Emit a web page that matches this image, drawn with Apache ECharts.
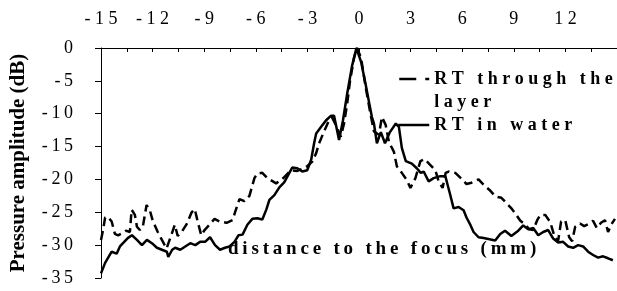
<!DOCTYPE html>
<html>
<head>
<meta charset="utf-8">
<script src="https://cdn.jsdelivr.net/npm/echarts@6/dist/echarts.min.js"></script>
<style>
  html, body { margin: 0; padding: 0; background: #fff; }
  #chart { width: 617px; height: 291px; }
</style>
</head>
<body>
<div id="chart"></div>
<script>
// distance to the focus (mm) and pressure amplitude (dB)
var waterX = [-15.0, -14.76, -14.38, -14.09, -13.9, -13.72, -13.43, -13.2, -12.91, -12.62, -12.33, -12.04, -11.75, -11.46, -11.17, -11.09, -10.86, -10.69, -10.39, -10.1, -9.81, -9.52, -9.24, -8.95, -8.66, -8.37, -8.08, -7.79, -7.53, -7.24, -7.01, -6.77, -6.49, -6.2, -5.91, -5.62, -5.39, -5.21, -4.92, -4.63, -4.34, -4.05, -3.88, -3.59, -3.3, -3.01, -2.78, -2.61, -2.49, -2.2, -1.91, -1.62, -1.45, -1.16, -0.93, -0.69, -0.41, -0.15, 0.12, 0.39, 0.58, 0.75, 0.87, 1.04, 1.27, 1.51, 1.8, 2.14, 2.32, 2.49, 2.72, 3.07, 3.36, 3.59, 3.76, 4.05, 4.34, 4.73, 5.02, 5.12, 5.31, 5.5, 5.79, 6.08, 6.25, 6.49, 6.66, 6.95, 7.24, 7.59, 7.92, 8.21, 8.49, 8.86, 9.26, 9.55, 9.84, 10.13, 10.42, 10.71, 11.0, 11.29, 11.58, 11.87, 12.16, 12.45, 12.74, 13.03, 13.32, 13.61, 13.9, 14.19, 14.48, 14.76];
var waterDb = [-34.3, -32.7, -31.0, -31.3, -30.2, -29.7, -28.9, -28.5, -29.2, -30.0, -29.2, -29.7, -30.4, -30.7, -31.0, -31.8, -30.7, -30.4, -30.7, -30.2, -29.7, -30.0, -29.5, -29.5, -28.8, -30.0, -30.7, -30.4, -30.2, -29.5, -28.5, -28.4, -26.9, -26.0, -25.9, -26.1, -24.6, -23.1, -22.4, -21.2, -20.4, -19.0, -18.2, -18.3, -18.8, -18.6, -17.0, -14.5, -13.0, -12.0, -11.0, -10.3, -10.3, -14.0, -11.0, -7.0, -2.8, 0, -2.1, -5.6, -8.2, -10.5, -11.5, -14.5, -12.8, -14.5, -12.8, -11.5, -12.0, -15.2, -17.2, -17.6, -18.3, -19.0, -18.8, -20.3, -19.8, -19.5, -19.5, -20.5, -22.4, -24.4, -24.2, -24.7, -25.8, -27.0, -28.0, -28.8, -28.9, -29.1, -29.3, -28.3, -27.8, -28.6, -27.8, -27.0, -27.6, -27.4, -28.5, -28.0, -27.7, -29.0, -29.6, -29.5, -30.2, -30.4, -30.0, -30.2, -31.0, -31.5, -31.9, -31.7, -32.0, -32.3];

var layerX = [-15.0, -14.88, -14.76, -14.59, -14.38, -14.19, -14.01, -13.78, -13.55, -13.32, -13.22, -13.03, -12.91, -12.74, -12.57, -12.35, -12.16, -11.99, -11.7, -11.46, -11.19, -10.89, -10.71, -10.54, -10.31, -10.02, -9.73, -9.55, -9.38, -9.17, -8.98, -8.69, -8.4, -8.11, -7.7, -7.35, -7.18, -6.95, -6.66, -6.37, -6.08, -5.91, -5.62, -5.33, -4.82, -4.4, -3.95, -3.59, -3.3, -3.01, -2.72, -2.49, -2.32, -2.08, -1.91, -1.74, -1.56, -1.33, -1.06, -0.87, -0.69, -0.52, -0.29, -0.12, 0.12, 0.39, 0.68, 0.87, 1.16, 1.33, 1.55, 1.74, 2.03, 2.2, 2.49, 2.78, 2.99, 3.28, 3.57, 3.82, 4.11, 4.44, 4.63, 4.86, 5.04, 5.21, 5.6, 5.96, 6.25, 6.54, 6.95, 7.24, 7.59, 7.94, 8.28, 8.57, 8.86, 9.09, 9.38, 9.67, 9.9, 10.13, 10.36, 10.54, 10.83, 11.12, 11.39, 11.58, 11.75, 11.99, 12.22, 12.39, 12.57, 12.85, 13.09, 13.32, 13.61, 13.83, 14.07, 14.3, 14.48, 14.66, 14.88];
var layerDb = [-29.2, -27.7, -25.8, -25.7, -26.4, -28.3, -28.5, -28.2, -27.8, -28.0, -24.6, -25.4, -27.2, -27.7, -27.2, -23.9, -24.7, -26.3, -28.0, -29.2, -30.5, -28.3, -26.9, -28.6, -28.0, -26.8, -25.0, -24.5, -26.4, -28.5, -27.7, -26.9, -26.0, -26.4, -26.6, -26.2, -24.8, -23.0, -23.3, -22.5, -19.8, -19.1, -19.0, -19.8, -20.6, -19.8, -18.6, -18.7, -18.4, -18.0, -17.3, -16.0, -14.5, -13.0, -12.0, -11.0, -10.6, -11.8, -13.5, -11.5, -8.5, -5.0, -1.5, 0, -1.5, -6.0, -10.2, -12.7, -13.2, -10.5, -11.7, -14.3, -15.8, -18.0, -19.0, -20.1, -21.3, -19.8, -17.2, -16.9, -17.7, -18.6, -20.3, -21.3, -19.0, -18.8, -19.0, -19.9, -20.7, -20.5, -20.0, -20.8, -21.6, -22.6, -22.8, -23.6, -24.4, -25.2, -26.3, -26.9, -27.6, -27.7, -26.2, -25.4, -25.4, -26.5, -28.9, -29.3, -26.4, -26.2, -28.8, -29.4, -27.2, -26.7, -27.1, -26.8, -26.3, -27.4, -26.6, -26.2, -28.0, -26.9, -26.0];

var serif = 'Liberation Serif';

// spread letters out like the original figure
function spaced(s, sp) {
  return s.split('').join(sp);
}

function pairs(xs, ys) {
  return xs.map(function (x, i) { return [x, ys[i]]; });
}

var chart = echarts.init(document.getElementById('chart'));

var legendText = { fontFamily: serif, fontSize: 18, fontWeight: 'bold', color: '#000', lineHeight: 23 };

chart.setOption({
  animation: false,
  title: {
    text: spaced('distance to the focus (mm)', '\u2009'),
    left: 228,
    top: 240,
    padding: 0,
    textStyle: { fontFamily: serif, fontSize: 19, fontWeight: 'bold', color: '#000' }
  },
  legend: [{
    data: ['RT through the layer'],
    left: 398,
    top: 79 - 34.5,
    padding: 0,
    itemWidth: 30,
    itemHeight: 10,
    itemStyle: { opacity: 0 },
    lineStyle: { type: [17, 9], width: 2.5, color: '#000' },
    // empty first line keeps the icon level with "RT through the"
    formatter: function () {
      return '\n' + spaced('RT through the', '\u2005') + '\n' + spaced('layer', '\u2005');
    },
    textStyle: legendText
  }, {
    data: ['RT in water'],
    left: 397,
    top: 125 - 11.5,
    padding: 0,
    itemWidth: 31,
    itemHeight: 10,
    itemStyle: { opacity: 0 },
    lineStyle: { width: 2.5, color: '#000' },
    formatter: function (name) { return spaced(name, '\u2005'); },
    textStyle: legendText
  }],
  grid: { left: 101, top: 48, width: 518, height: 230 },
  xAxis: {
    type: 'value',
    position: 'top',
    min: -15,
    max: 15,
    interval: 1.5,
    splitLine: { show: false },
    axisLine: { onZero: false, lineStyle: { color: '#000', width: 1 } },
    axisTick: { inside: true, length: 4, lineStyle: { color: '#000' } },
    axisLabel: {
      showMaxLabel: false,
      margin: 20,
      fontFamily: serif,
      fontSize: 18,
      color: '#000',
      formatter: function (v) {
        if (Math.abs(v % 3) > 1e-6) return '';
        return spaced(String(v), '\u2005');
      }
    }
  },
  yAxis: {
    type: 'value',
    min: -35,
    max: 0,
    interval: 5,
    name: 'Pressure amplitude (dB)',
    nameLocation: 'middle',
    nameGap: 72,
    nameTextStyle: { fontFamily: serif, fontSize: 21, fontWeight: 'bold', color: '#000' },
    splitLine: { show: false },
    axisLine: { show: true, onZero: false, lineStyle: { color: '#000', width: 1 } },
    axisTick: { show: true, length: 6, lineStyle: { color: '#000' } },
    axisLabel: {
      margin: 28,
      fontFamily: serif,
      fontSize: 18,
      color: '#000',
      formatter: function (v) { return spaced(String(v), '\u2009'); }
    }
  },
  series: [{
    name: 'RT through the layer',
    type: 'line',
    symbol: 'none',
    data: pairs(layerX, layerDb),
    lineStyle: { color: '#000', width: 2.5, type: [9, 5] },
    itemStyle: { color: '#000' },
    z: 2
  }, {
    name: 'RT in water',
    type: 'line',
    symbol: 'none',
    data: pairs(waterX, waterDb),
    lineStyle: { color: '#000', width: 2.5 },
    itemStyle: { color: '#000' },
    z: 3
  }]
});
</script>
</body>
</html>
